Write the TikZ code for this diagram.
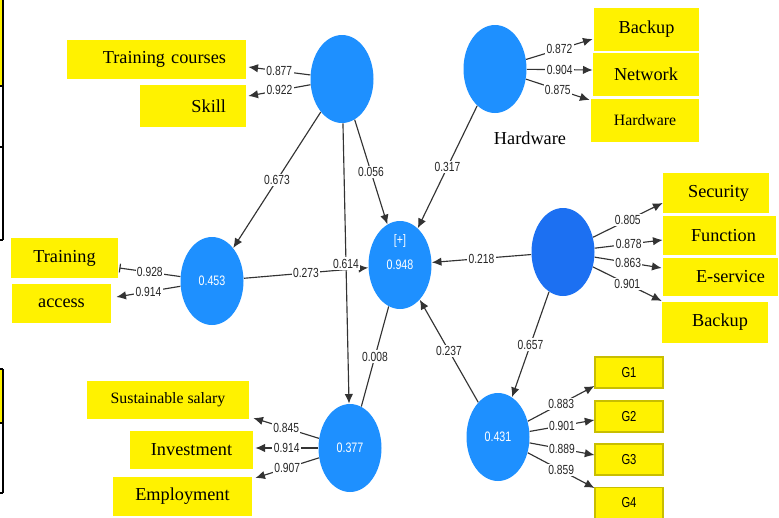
\documentclass[tikz,border=0pt]{standalone}
\usepackage{fontspec}
\setmainfont{Liberation Serif}
\newfontfamily\numfont[FakeStretch=0.78]{Liberation Sans}
\usetikzlibrary{shapes.geometric,arrows.meta,calc}
\definecolor{lvblue}{RGB}{30,144,255}
\definecolor{lvdark}{RGB}{28,112,242}
\definecolor{gedge}{RGB}{200,190,0}
\newlength\unitpx
\setlength\unitpx{0.02cm}

\begin{document}
\begin{tikzpicture}[
  x=0.02cm, y=-0.02cm,
  lvtext/.style={text=white,font=\numfont\fontsize{7.8}{9}\selectfont},
  latent/.style={ellipse,fill=lvblue,minimum width=63\unitpx,minimum height=88\unitpx,inner sep=0pt,lvtext},
  item/.style 2 args={fill=yellow,inner sep=0pt,minimum width=#1\unitpx,minimum height=#2\unitpx,font=\fontsize{10.4}{12}\selectfont},
  gitem/.style={fill=yellow,draw=gedge,line width=0.6pt,inner sep=0pt,minimum width=68\unitpx,minimum height=31\unitpx,font=\numfont\fontsize{8.2}{9}\selectfont},
  ind/.style={draw=black!80,line width=0.65pt,-{Latex[length=5.5pt,width=4.8pt]}},
  coef/.style={fill=white,inner sep=0.8pt,text=black!85,font=\numfont\fontsize{7.5}{8}\selectfont}
]
\useasboundingbox (0,0) rectangle (779,518);

% left edge remains
\fill[yellow] (0,0) rectangle (3,85);
\fill[yellow] (0,370) rectangle (3,422);
\draw[line width=1.1pt] (3,0) -- (3,240) (0,86) -- (3,86) (0,147) -- (3,147) (0,240) -- (3,240);
\draw[line width=1.1pt] (3,369) -- (3,493) (0,369) -- (3,369) (0,423) -- (3,423) (0,493) -- (3,493);

% latent variables
\node[latent] (lvTop) at (342,79) {};
\node[latent] (lvHw) at (495,69) {};
\node[latent] (lvMid) at (400,265) {0.948};
\node[lvtext] (plus) at (400,241) {[+]};
\node[latent,fill=lvdark] (lvSvc) at (563,252) {};
\node[latent] (lvAcc) at (212,281) {0.453};
\node[latent] (lvEmp) at (350,448) {0.377};
\node[latent] (lvGov) at (498,437) {0.431};

\node[font=\fontsize{10.4}{12}\selectfont] (hwcap) at (530,138) {Hardware};

% indicators
\node[item={179}{39},text width=139\unitpx,align=right,inner xsep=20\unitpx] (tc) at (156.5,59.5) {Training courses};
\node[item={106}{42},text width=66\unitpx,align=right,inner xsep=20\unitpx] (sk) at (193,106) {Skill};

\node[item={105}{43}] (bk1) at (646.5,29.5) {Backup};
\node[item={106}{43}] (nw) at (646,74.5) {Network};
\node[item={108}{43},font=\fontsize{9}{11}\selectfont] (hwb) at (645,120.5) {Hardware};

\node[item={106}{40},text width=66\unitpx,align=right,inner xsep=20\unitpx] (sec) at (716,193) {Security};
\node[item={113}{39},text width=73\unitpx,align=right,inner xsep=20\unitpx] (fun) at (719.5,235.5) {Function};
\node[item={115}{38},text width=89\unitpx,align=right,inner xsep=13\unitpx] (esv) at (720.5,277) {E-service};
\node[item={106}{41},text width=66\unitpx,align=right,inner xsep=20\unitpx] (bk2) at (715,322.5) {Backup};

\node[item={107}{40}] (tr) at (64.5,258) {Training};
\node[item={99}{39}] (acc) at (61.5,303.5) {access};

\node[item={162}{38},font=\fontsize{9}{11}\selectfont] (sal) at (168,400) {Sustainable salary};
\node[item={123}{38}] (inv) at (191.5,450) {Investment};
\node[item={139}{39}] (emp) at (182.5,496.5) {Employment};

\node[gitem] (g1) at (629,372.5) {G1};
\node[gitem] (g2) at (629,416.5) {G2};
\node[gitem] (g3) at (629,459.5) {G3};
\node[gitem] (g4) at (629,503) {G4};

% outer loadings
\foreach \bx/\dx/\dy/\val in {tc/2/7.5/0.877, sk/2/-10/0.922}
  \draw[ind] (lvTop) -- node[coef] {\val} ($(\bx.east)+(\dx,\dy)$);
\foreach \bx/\dx/\dy/\val in {bk1/-1/9.5/0.872, nw/0/-4.5/0.904, hwb/-1/-20.5/0.875}
  \draw[ind] (lvHw) -- node[coef] {\val} ($(\bx.west)+(\dx,\dy)$);
\foreach \bx/\dx/\dy/\val in {sec/0/10/0.805, fun/0/4.5/0.878, esv/-1/-9/0.863, bk2/0/-21.5/0.901}
  \draw[ind] (lvSvc) -- node[coef] {\val} ($(\bx.west)+(\dx,\dy)$);
\draw[ind,-{Bar[width=5pt]}] (lvAcc) -- node[coef] {0.928} ($(tr.east)+(1,10)$);
\draw[ind] (lvAcc) -- node[coef] {0.914} ($(acc.east)+(5,-6.5)$);
\foreach \bx/\dx/\dy/\val in {sal/4/18/0.845, inv/2/-2/0.914, emp/3/-18.5/0.907}
  \draw[ind] (lvEmp) -- node[coef] {\val} ($(\bx.east)+(\dx,\dy)$);
\foreach \bx/\dy/\val in {g1/13.5/0.883, g2/3.5/0.901, g3/-4.5/0.889, g4/-15/0.859}
  \draw[ind] (lvGov) -- node[coef] {\val} ($(\bx.west)+(0,\dy)$);

% inner model
\draw[ind] (lvTop) -- node[coef] {0.673} (lvAcc);
\draw[ind] (lvTop) -- node[coef] {0.056} (lvMid);
\draw[ind] (lvHw) -- node[coef] {0.317} (lvMid);
\draw[ind] (lvSvc) -- node[coef] {0.218} (lvMid);
\draw[ind] (lvAcc) -- node[coef] {0.273} (lvMid);
\draw[ind] (lvTop) -- node[coef] {0.614} (lvEmp);
\draw[ind,-] (lvMid) -- node[coef] {0.008} (lvEmp);
\draw[ind] (lvGov) -- node[coef] {0.237} (lvMid);
\draw[ind] (lvSvc) -- node[coef] {0.657} (lvGov);

\end{tikzpicture}
\end{document}
